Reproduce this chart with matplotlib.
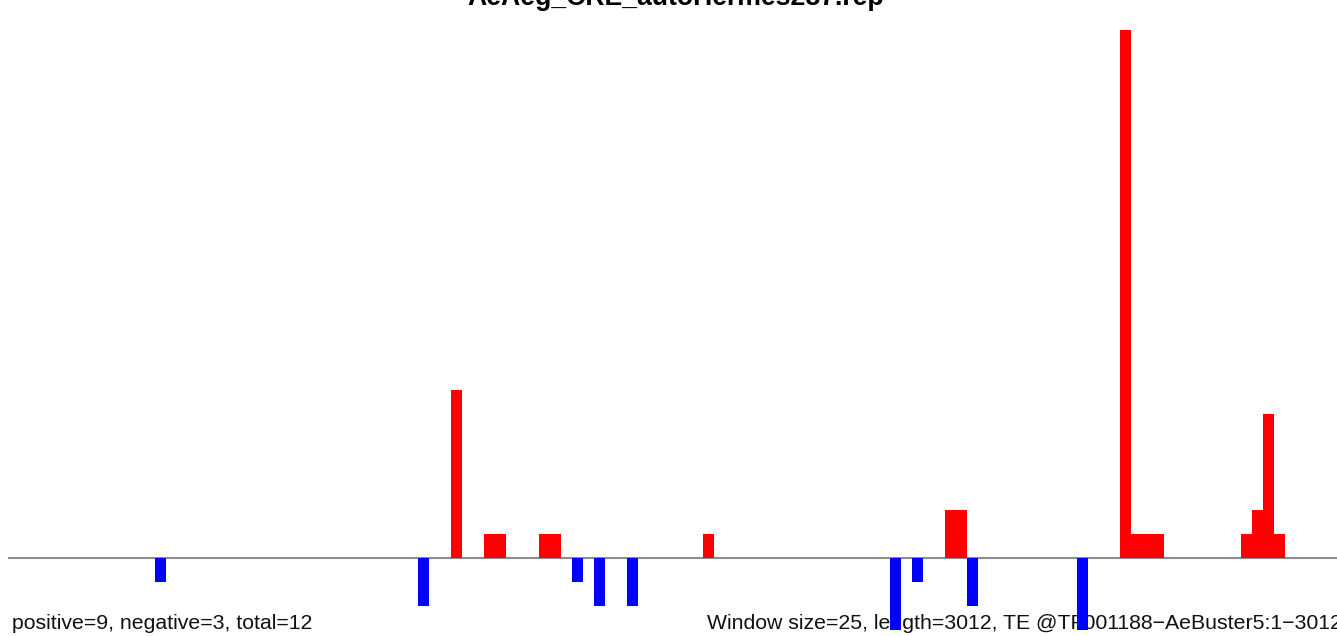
import numpy as np
import matplotlib
matplotlib.use('Agg')
import matplotlib.pyplot as plt

# window size and sequence length
window = 25
length = 3012

# windows (index) with hits on the plus strand and their counts
pos_windows = np.array([40, 43, 44, 48, 49, 63, 85, 86, 101, 102, 103, 104, 112, 113, 114, 115])
pos_counts = np.array([7, 1, 1, 1, 1, 1, 2, 2, 22, 1, 1, 1, 1, 2, 6, 1])

# windows with hits on the minus strand and their counts
neg_windows = np.array([13, 37, 51, 53, 56, 80, 82, 87, 97])
neg_counts = np.array([1, 2, 1, 2, 2, 3, 1, 2, 3])

title = 'AeAeg_CRE_autoHermes287.rep'
left_label = 'positive=9, negative=3, total=12'
right_label = 'Window size=25, length=3012, TE @TF001188\u2212AeBuster5:1\u22123012'

W, H = 1337, 636
fig = plt.figure(figsize=(W / 100, H / 100), dpi=100)
ax = fig.add_axes([8 / W, 0, 1 - 8 / W, 1])
ax.set_axis_off()

# pixel scale: ~0.439 px per bp, 24 px per count, baseline at y=557.5
px_bp = 0.439
px_cnt = 24.0
ax.set_xlim(-4 / px_bp, (W - 12) / px_bp)
ax.set_ylim(-(H - 557.5) / px_cnt, 557.5 / px_cnt)

ax.axhline(0, color='#8c8c8c', lw=1.5, zorder=1)
ax.bar(pos_windows * window, pos_counts, width=window, align='edge',
       color='#ff0000', linewidth=0, zorder=2)
ax.bar(neg_windows * window, -neg_counts, width=window, align='edge',
       color='#0000ff', linewidth=0, zorder=2)

font = ['Liberation Sans', 'DejaVu Sans']
ax.text(676 / W, 1 - 5 / H, title, transform=fig.transFigure, ha='center',
        va='baseline', fontsize=19.2, fontweight='bold', family=font, zorder=0.5)
ax.text(12 / W, 1 - 629 / H, left_label, transform=fig.transFigure, ha='left',
        va='baseline', fontsize=15.35, color='#111111', family=font, zorder=0.5)
ax.text(707 / W, 1 - 629 / H, right_label, transform=fig.transFigure, ha='left',
        va='baseline', fontsize=15.35, color='#111111', family=font, zorder=0.5)

fig.savefig('out.png', dpi=100)
